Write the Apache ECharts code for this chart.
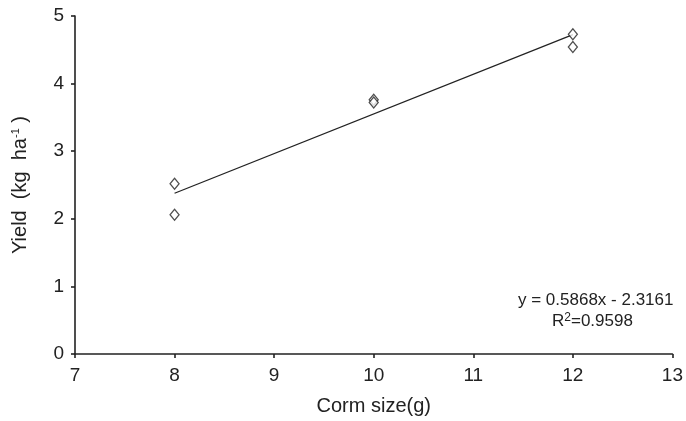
<!DOCTYPE html>
<html><head><meta charset="utf-8">
<script src="https://cdn.jsdelivr.net/npm/echarts@6/dist/echarts.min.js"></script>
<style>html,body{margin:0;padding:0;background:#fff}#c{width:686px;height:421px}</style>
</head><body><div id="c"></div>
<script>
var cormSize = [8, 8, 10, 10, 12, 12];
var yieldVals = [2.52, 2.06, 3.76, 3.72, 4.73, 4.54];
var trendX = [8, 12];
var trendY = [2.378, 4.726];
var xTicks = [7, 8, 9, 10, 11, 12, 13];
var yTicks = [0, 1, 2, 3, 4, 5];
var eqText = 'y = 0.5868x - 2.3161';
var r2Text = '0.9598';

var pts = cormSize.map(function (x, i) { return [x, yieldVals[i]]; });
var line = trendX.map(function (x, i) { return [x, trendY[i]]; });
var font = 'Liberation Sans, Arial, sans-serif';
var chart = echarts.init(document.getElementById('c'));
chart.setOption({
  animation: false,
  grid: { left: 75, right: 12, top: 16, bottom: 65 },
  xAxis: {
    type: 'value', min: xTicks[0], max: xTicks[xTicks.length - 1], interval: 1,
    name: 'Corm size(g)', nameLocation: 'middle', nameGap: 42,
    nameTextStyle: { fontFamily: font, fontSize: 20, color: '#222' },
    axisLine: { lineStyle: { color: '#222', width: 1.6 } },
    axisTick: { show: true, length: 4, lineStyle: { color: '#222', width: 1.6 } },
    axisLabel: { fontFamily: font, fontSize: 19, color: '#222', margin: 12 },
    splitLine: { show: false }
  },
  yAxis: {
    type: 'value', min: yTicks[0], max: yTicks[yTicks.length - 1], interval: 1,
    name: 'Yield  (kg  ha{sup|-1} )', nameLocation: 'middle', nameGap: 45, nameRotate: 90,
    nameTextStyle: { fontFamily: font, fontSize: 20, color: '#222',
      rich: { sup: { fontFamily: font, fontSize: 11, color: '#222', verticalAlign: 'top', padding: [0, 0, 9, 0] } } },
    axisLine: { show: true, lineStyle: { color: '#222', width: 1.6 } },
    axisTick: { show: true, length: 4, lineStyle: { color: '#222', width: 1.6 } },
    axisLabel: { fontFamily: font, fontSize: 19, color: '#222', margin: 11 },
    splitLine: { show: false }
  },
  series: [
    { type: 'line', data: line, symbol: 'none', lineStyle: { color: '#222', width: 1.3 }, z: 2 },
    { type: 'scatter', data: pts, symbol: 'diamond', symbolSize: [9, 11],
      itemStyle: { color: '#fff', borderColor: '#222', borderWidth: 1.3 }, z: 3 }
  ],
  graphic: [
    { type: 'text', left: 518, top: 292, style: { text: eqText, fontFamily: font, fontSize: 17, fill: '#222' } },
    { type: 'text', left: 552, top: 312, style: { text: 'R{sup|2}=' + r2Text, fontFamily: font, fontSize: 17, fill: '#222',
        rich: { sup: { fontFamily: font, fontSize: 12, fill: '#222', verticalAlign: 'top', padding: [0, 0, 7, 0] } } } }
  ]
});
</script></body></html>
